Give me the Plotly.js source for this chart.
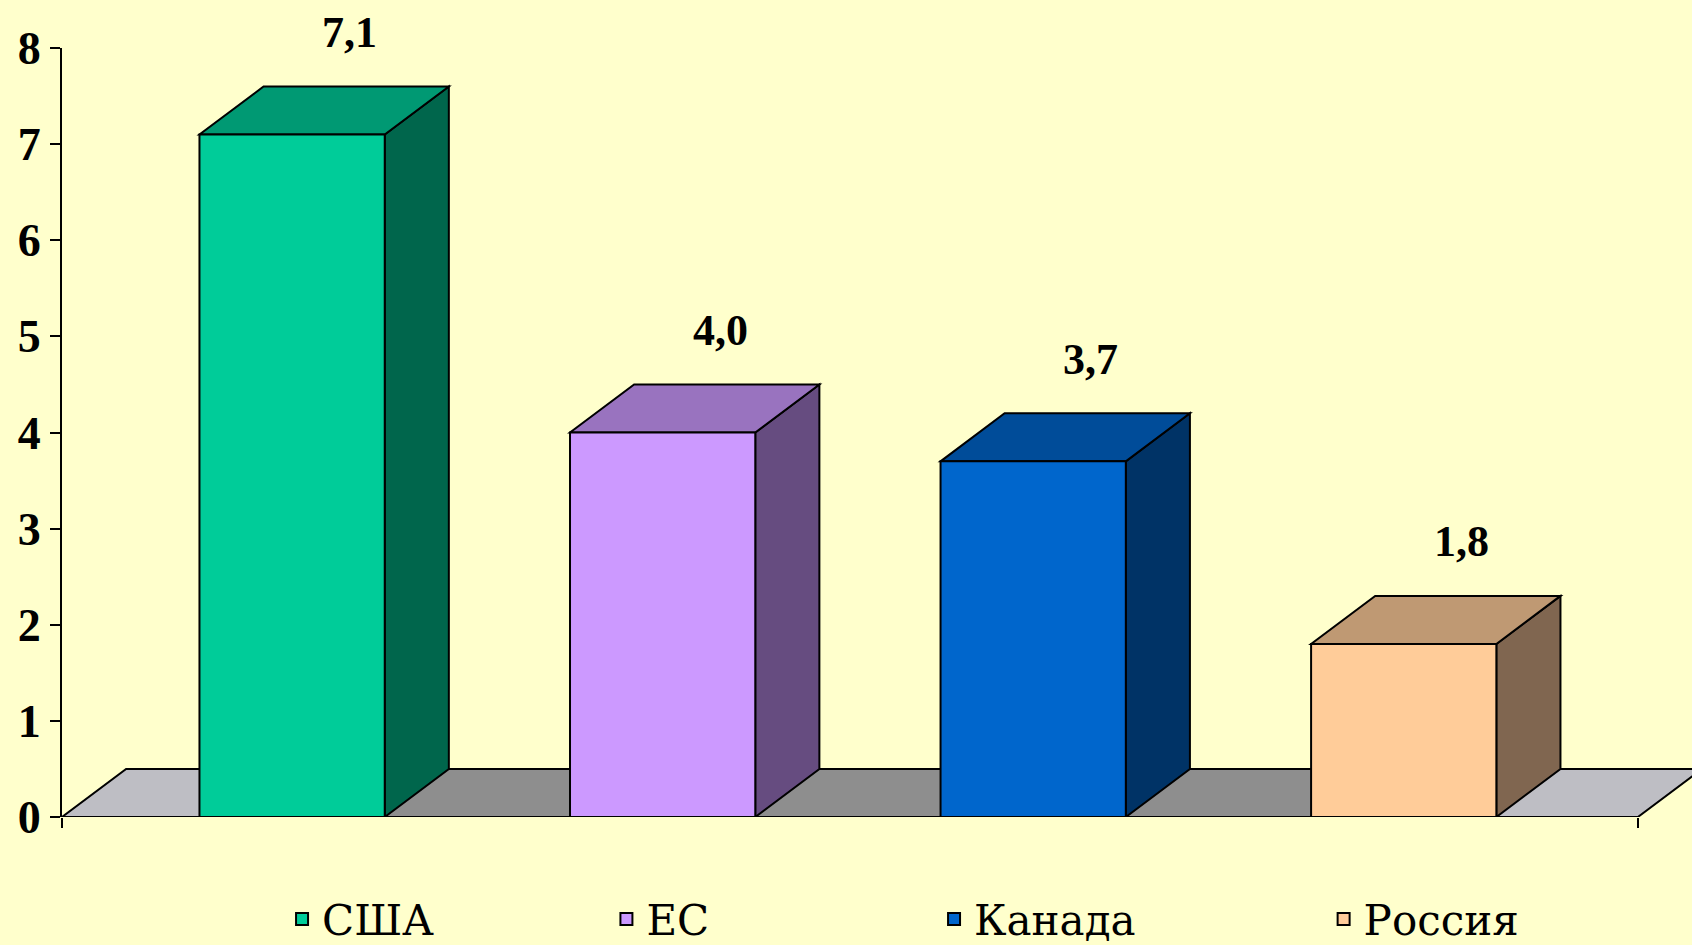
<!DOCTYPE html>
<html>
<head>
<meta charset="utf-8">
<script src="https://cdn.plot.ly/plotly-3.0.1.min.js"></script>
<style>
  html, body { margin: 0; padding: 0; background: #FFFFCC; }
  #chart { width: 1692px; height: 945px; }
</style>
</head>
<body>
<div id="chart"></div>
<script>
// ---- data ----
const categories = ['США', 'ЕС', 'Канада', 'Россия'];
const values = [7.1, 4.0, 3.7, 1.8];
const yTicks = [0, 1, 2, 3, 4, 5, 6, 7, 8];

// ---- style ----
const frontColors = ['#00CC99', '#CC99FF', '#0066CC', '#FFCC99'];
const topColors   = ['#009973', '#9973BF', '#004C99', '#BF9973'];
const sideColors  = ['#00664C', '#664C80', '#003366', '#806650'];
const barWidth = 0.5;
const depthX = 0.173;   // 3D depth offset, x-axis units
const depthY = 0.5;     // 3D depth offset, y-axis units
const floorX0 = -0.621, floorX1 = 3.632;
const legendXs = [0.135, 0.334, 0.535, 0.774];
const serif = 'Liberation Serif';
const legendSerif = 'DejaVu Serif';

const traces = categories.map((c, i) => ({
  type: 'bar',
  name: c,
  x: [i],
  y: [values[i]],
  width: barWidth,
  marker: { color: frontColors[i], line: { color: '#000', width: 2 } },
  hoverinfo: 'skip',
  legend: i === 0 ? 'legend' : 'legend' + (i + 1)
}));

const shapes = [];
const poly = pts => 'M ' + pts.map(p => p[0] + ',' + p[1]).join(' L ') + ' Z';
// floor
const floorPts = [[floorX0, 0], [floorX1, 0], [floorX1 + depthX, depthY], [floorX0 + depthX, depthY]];
shapes.push({ type: 'path', xref: 'x', yref: 'y', layer: 'below', path: poly(floorPts),
  fillcolor: '#BEBEC4', line: { width: 0 } });
const dx0 = 0 + barWidth / 2, dx1 = (categories.length - 1) - barWidth / 2;
shapes.push({ type: 'path', xref: 'x', yref: 'y', layer: 'below',
  path: poly([[dx0, 0], [dx1, 0], [dx1 + depthX, depthY], [dx0 + depthX, depthY]]),
  fillcolor: '#8E8E8E', line: { width: 0 } });
shapes.push({ type: 'path', xref: 'x', yref: 'y', layer: 'below', path: poly(floorPts),
  fillcolor: 'rgba(0,0,0,0)', line: { color: '#000', width: 2 } });
// bar tops and sides
values.forEach((v, i) => {
  const x0 = i - barWidth / 2, x1 = i + barWidth / 2;
  shapes.push({ type: 'path', xref: 'x', yref: 'y', layer: 'below',
    path: poly([[x1, 0], [x1 + depthX, depthY], [x1 + depthX, v + depthY], [x1, v]]),
    fillcolor: sideColors[i], line: { color: '#000', width: 2 } });
  shapes.push({ type: 'path', xref: 'x', yref: 'y', layer: 'below',
    path: poly([[x0, v], [x1, v], [x1 + depthX, v + depthY], [x0 + depthX, v + depthY]]),
    fillcolor: topColors[i], line: { color: '#000', width: 2 } });
});

const annotations = values.map((v, i) => ({
  x: i + depthX * 0.9, y: v + depthY, xref: 'x', yref: 'y',
  text: v.toFixed(1).replace('.', ','),
  showarrow: false, yanchor: 'middle', yshift: 54,
  font: { family: serif, size: 44, weight: 'bold', color: '#000' }
}));

const layout = {
  width: 1692, height: 945,
  paper_bgcolor: '#FFFFCC', plot_bgcolor: '#FFFFCC',
  margin: { l: 62, r: 0, t: 48, b: 127.5, autoexpand: false },
  barmode: 'overlay',
  showlegend: true,
  xaxis: {
    range: [floorX0, 3.778], showgrid: false, zeroline: false, showline: false,
    showticklabels: false, tickmode: 'array', tickvals: [floorX0, floorX1],
    ticks: 'outside', ticklen: 10, tickwidth: 2, tickcolor: '#000', fixedrange: true
  },
  yaxis: {
    range: [0, 8], tickmode: 'array', tickvals: yTicks, ticktext: yTicks.map(String),
    showgrid: false, zeroline: false, showline: true, linecolor: '#000', linewidth: 2,
    ticks: 'outside', ticklen: 10, tickwidth: 2, tickcolor: '#000',
    tickfont: { family: serif, size: 46, weight: 'bold', color: '#000' }, fixedrange: true
  },
  shapes: shapes,
  annotations: annotations
};
categories.forEach((c, i) => {
  const key = i === 0 ? 'legend' : 'legend' + (i + 1);
  layout[key] = {
    x: legendXs[i], xanchor: 'left', y: -0.133, yanchor: 'middle',
    orientation: 'h', bgcolor: 'rgba(0,0,0,0)', borderwidth: 0,
    font: { family: legendSerif, size: 42, color: '#000' }
  };
});

Plotly.newPlot('chart', traces, layout, { displayModeBar: false, staticPlot: true });
</script>
</body>
</html>
